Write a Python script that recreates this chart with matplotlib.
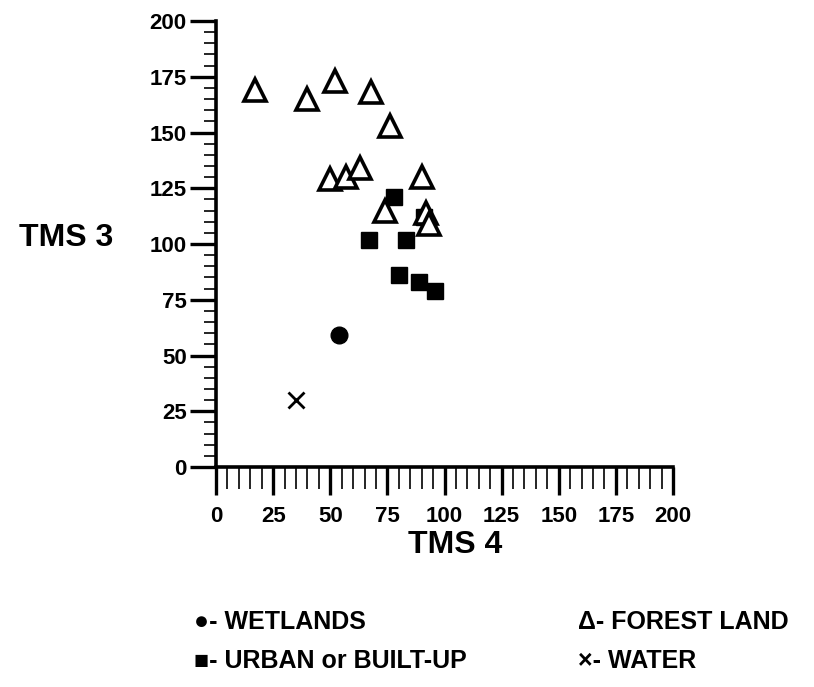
import matplotlib
matplotlib.use('Agg')
from matplotlib import pyplot as plt
from matplotlib.ticker import MultipleLocator

plt.rcParams['font.family'] = ['Liberation Sans', 'DejaVu Sans']
plt.rcParams['font.weight'] = 'bold'

# TMS 4 (x) / TMS 3 (y) values
forest_x = [17, 40, 52, 68, 76, 50, 57, 63, 90, 74, 92, 93]
forest_y = [169, 165, 173, 168, 153, 129, 130, 134, 130, 115, 114, 109]
urban_x = [78, 67, 83, 80, 89, 96, 91]
urban_y = [121, 102, 102, 86, 83, 79, 112]
wetland_x = [54]
wetland_y = [59]
water_x = [35]
water_y = [30]

legend_left = ['\u25cf- WETLANDS', '\u25a0- URBAN or BUILT-UP']
legend_right = ['\u0394- FOREST LAND', '\u00d7- WATER']

fig = plt.figure(figsize=(8.14, 6.87), dpi=100)
ax = fig.add_axes([0.2654, 0.3202, 0.5614, 0.6492])

ax.plot(urban_x, urban_y, 's', ms=11.5, color='black', mec='black')
ax.plot(forest_x, forest_y, '^', ms=16, mfc='white', mec='black', mew=2.6)
ax.plot(wetland_x, wetland_y, 'o', ms=12, color='black')
ax.plot(water_x, water_y, 'x', ms=11, color='black', mew=2)

ax.set_xlim(0, 200)
ax.set_ylim(0, 200)
for s in ['top', 'right']:
    ax.spines[s].set_visible(False)
for s in ['left', 'bottom']:
    ax.spines[s].set_linewidth(2.6)

ax.xaxis.set_major_locator(MultipleLocator(25))
ax.xaxis.set_minor_locator(MultipleLocator(5))
ax.yaxis.set_major_locator(MultipleLocator(25))
ax.yaxis.set_minor_locator(MultipleLocator(5))

ax.tick_params(axis='x', which='major', direction='out', length=20, width=2.4, pad=8, labelsize=16)
ax.tick_params(axis='x', which='minor', direction='out', length=16, width=1.2)
ax.tick_params(axis='y', which='major', direction='out', length=19, width=2.4, pad=2, labelsize=16)
ax.tick_params(axis='y', which='minor', direction='out', length=9, width=1.2)
for lab in ax.get_xticklabels() + ax.get_yticklabels():
    lab.set_fontweight('bold')

fig.text(0.081, 0.653, 'TMS 3', fontsize=23, fontweight='bold', va='center', ha='center')
fig.text(0.559, 0.207, 'TMS 4', fontsize=23, fontweight='bold', va='center', ha='center')

for i, t in enumerate(legend_left):
    fig.text(0.238, 0.095 - i * 0.057, t, fontsize=18, fontweight='bold', va='center', ha='left')
for i, t in enumerate(legend_right):
    fig.text(0.71, 0.095 - i * 0.057, t, fontsize=18, fontweight='bold', va='center', ha='left')

fig.savefig('out.png', dpi=100)
